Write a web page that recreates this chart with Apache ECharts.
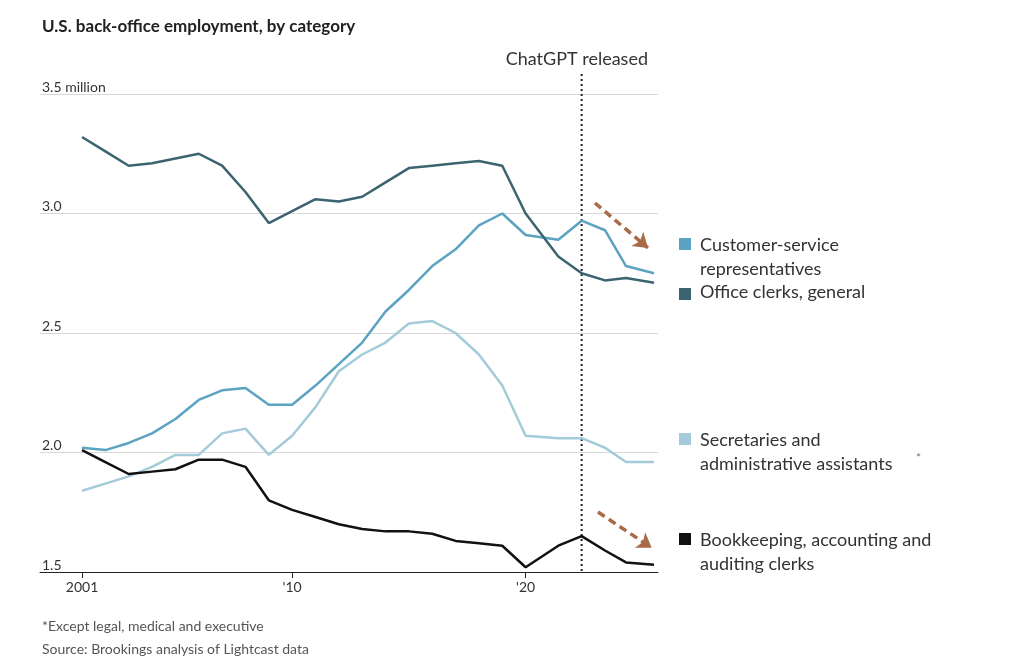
<!DOCTYPE html>
<html><head><meta charset="utf-8">
<script src="https://cdn.jsdelivr.net/npm/echarts@6/dist/echarts.min.js"></script>
<style>html,body{margin:0;background:#fff}#c{width:1024px;height:667px}</style>
</head><body><div id="c"></div>
<script>
// years (points after 2020 sit mid-year)
var years = [2001,2002,2003,2004,2005,2006,2007,2008,2009,2010,2011,2012,2013,2014,2015,2016,2017,2018,2019,2020,2021.4,2022.4,2023.4,2024.3,2025.5];
var customer = [2.02,2.01,2.04,2.08,2.14,2.22,2.26,2.27,2.20,2.20,2.28,2.37,2.46,2.59,2.68,2.78,2.85,2.95,3.00,2.91,2.89,2.97,2.93,2.78,2.75];
var office = [3.32,3.26,3.20,3.21,3.23,3.25,3.20,3.09,2.96,3.01,3.06,3.05,3.07,3.13,3.19,3.20,3.21,3.22,3.20,3.00,2.82,2.75,2.72,2.73,2.71];
var secretaries = [1.84,1.87,1.90,1.94,1.99,1.99,2.08,2.10,1.99,2.07,2.19,2.34,2.41,2.46,2.54,2.55,2.50,2.41,2.28,2.07,2.06,2.06,2.02,1.96,1.96];
var bookkeeping = [2.01,1.96,1.91,1.92,1.93,1.97,1.97,1.94,1.80,1.76,1.73,1.70,1.68,1.67,1.67,1.66,1.63,1.62,1.61,1.52,1.61,1.65,1.59,1.54,1.53];
var chatgpt = 2022.4;

function pairs(v){ return years.map(function(y,i){ return [y, v[i]]; }); }
function line(name, v, color){
  return {name:name, type:'line', data:pairs(v), showSymbol:false, silent:true,
    lineStyle:{color:color, width:2.5}, itemStyle:{color:color}};
}
var arrowStyle = {color:'#a86a47', width:3.5, type:[8,5]};

var chart = echarts.init(document.getElementById('c'));
var series = [
  line('Secretaries', secretaries, '#a4cbd9'),
  line('Customer', customer, '#5ba3c0'),
  line('Office', office, '#3b6470'),
  line('Bookkeeping', bookkeeping, '#111111')
];
series[3].markLine = {silent:true, symbol:['none','arrow'], symbolSize:14, label:{show:false}, lineStyle:arrowStyle,
  data:[[{coord:[2022.97,3.044], lineStyle:arrowStyle},{coord:[2025.24,2.856]}],
        [{coord:[2023.1,1.751], lineStyle:arrowStyle},{coord:[2025.4,1.601]}]]};

chart.setOption({
  animation:false,
  textStyle:{fontFamily:'Lato, "Noto Sans", sans-serif'},
  grid:{left:40, right:366, top:94, bottom:95},
  xAxis:{type:'value', min:1999.2, max:2025.67,
    axisLine:{show:true, lineStyle:{color:'#222'}},
    axisTick:{show:true, customValues:[2001,2010,2020], length:6, lineStyle:{color:'#222'}},
    axisLabel:{customValues:[2001,2010,2020], color:'#333', fontSize:14,
      formatter:function(v){ return v===2001 ? '2001' : "'" + String(v).slice(2); }},
    splitLine:{show:false}},
  yAxis:{type:'value', min:1.5, max:3.5, interval:0.5,
    axisLine:{show:false}, axisTick:{show:false},
    axisLabel:{inside:true, verticalAlign:'bottom', margin:2, color:'#333', fontSize:14,
      formatter:function(v){ return v===3.5 ? '3.5 million' : v.toFixed(1); }},
    splitLine:{lineStyle:{color:'#d8d8d8'}}},
  series:series
});

var xRel = chart.convertToPixel({xAxisIndex:0}, chatgpt);
var yBot = chart.convertToPixel({yAxisIndex:0}, 1.5);
var font = '18px Lato, "Noto Sans", sans-serif';
function txt(x,y,t,opt){ return {type:'text', left:x, top:y, style:Object.assign({text:t, fill:'#333', font:font}, opt||{})}; }
function sq(y,c){ return {type:'rect', left:679, top:y, shape:{width:12,height:12}, style:{fill:c}}; }
chart.setOption({graphic:[
  {type:'line', shape:{x1:xRel, y1:74, x2:xRel, y2:yBot}, style:{stroke:'#222', lineWidth:2, lineDash:[2,3]}},
  txt(xRel-76,50,'ChatGPT released'),
  txt(42,18,'U.S. back-office employment, by category',{font:'bold 17px Lato, "Noto Sans", sans-serif', fill:'#222'}),
  sq(238,'#5ba3c0'), txt(700,233,'Customer-service\nrepresentatives',{lineHeight:24}),
  sq(288,'#3b6470'), txt(700,283,'Office clerks, general'),
  sq(433,'#a4cbd9'), txt(700,428,'Secretaries and\nadministrative assistants',{lineHeight:24}),
  txt(916,452,'*',{font:'12px Lato, sans-serif', fill:'#777'}),
  sq(533,'#111111'), txt(700,528,'Bookkeeping, accounting and\nauditing clerks',{lineHeight:24}),
  txt(42,619,'*Except legal, medical and executive',{font:'14px Lato, "Noto Sans", sans-serif', fill:'#555'}),
  txt(42,642,'Source: Brookings analysis of Lightcast data',{font:'14px Lato, "Noto Sans", sans-serif', fill:'#555'})
]});
</script></body></html>
